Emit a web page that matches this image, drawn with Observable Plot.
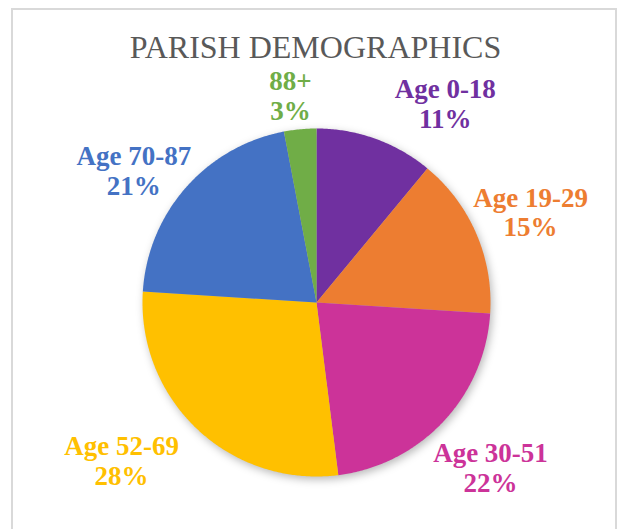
<!DOCTYPE html>
<html>
<head>
<meta charset="utf-8">
<script src="https://cdn.jsdelivr.net/npm/d3@7"></script>
<script src="https://cdn.jsdelivr.net/npm/@observablehq/plot@0.6"></script>
<style>
  html, body { margin: 0; padding: 0; background: #fff; }
  #wrap { position: relative; width: 621px; height: 529px; overflow: hidden; }
  #border { position: absolute; left: 11px; top: 8px; width: 606px; height: 560px; border: 2px solid #d9d9d9; box-sizing: border-box; }
  #chart { position: absolute; left: 0; top: 0; }
</style>
</head>
<body>
<div id="wrap"><div id="border"></div><div id="chart"></div></div>
<script>
// ---- data ----
const categories = ["Age 0-18", "Age 19-29", "Age 30-51", "Age 52-69", "Age 70-87", "88+"];
const percents   = [11, 15, 22, 28, 21, 3];
const colors     = ["#7030A0", "#ED7D31", "#CC3399", "#FFC000", "#4472C4", "#70AD47"];
const title      = "PARISH DEMOGRAPHICS";

// ---- layout (label centers, in units of pie radius, relative to pie center) ----
const labelLayout = [
  [0.74, -1.145],
  [1.23, -0.52],
  [1.00, 0.95],
  [-1.12, 0.91],
  [-1.05, -0.76],
  [-0.15, -1.19]
];

// build slice polygons from pie angles (clockwise from 12 o'clock)
const pie = d3.pie().sort(null).value(d => d.value)(categories.map((c, i) => ({label: c, value: percents[i]})));
const slices = [];
for (const a of pie) {
  const label = a.data.label;
  slices.push({label, x: 0, y: 0});
  const steps = Math.max(2, Math.ceil((a.endAngle - a.startAngle) / (Math.PI / 360)));
  for (let k = 0; k <= steps; k++) {
    const t = a.startAngle + (a.endAngle - a.startAngle) * k / steps;
    slices.push({label, x: Math.sin(t), y: Math.cos(t)});
  }
  slices.push({label, x: 0, y: 0});
}

const labels = categories.map((c, i) => ({
  label: c,
  text: `${c}\n${percents[i]}%`,
  x: labelLayout[i][0],
  y: -labelLayout[i][1]
}));

const cx = 316, cy = 302, R = 174;
const chart = Plot.plot({
  width: 621,
  height: 529,
  margin: 0,
  x: {domain: [-1, 1], range: [cx - R, cx + R], axis: null},
  y: {domain: [-1, 1], range: [cy + R, cy - R], axis: null},
  color: {domain: categories, range: colors},
  style: {background: "transparent", overflow: "visible"},
  marks: [
    Plot.dot([{x: 0, y: 0}], {x: "x", y: "y", r: R, fill: "#000", fillOpacity: 0.28, dx: 2, dy: 3, imageFilter: "blur(4px)"}),
    Plot.line(slices, {x: "x", y: "y", z: "label", fill: "label", stroke: "none", curve: "linear"}),
    Plot.text(labels, {
      x: "x", y: "y", text: "text", fill: "label",
      fontFamily: "Liberation Serif", fontWeight: "bold", fontSize: 27, lineHeight: 1.1
    }),
    Plot.text([title], {
      frameAnchor: "top", dx: 4.5, dy: 35, fill: "#595959",
      fontFamily: "Liberation Serif", fontSize: 32
    })
  ]
});
document.getElementById("chart").appendChild(chart);
</script>
</body>
</html>
